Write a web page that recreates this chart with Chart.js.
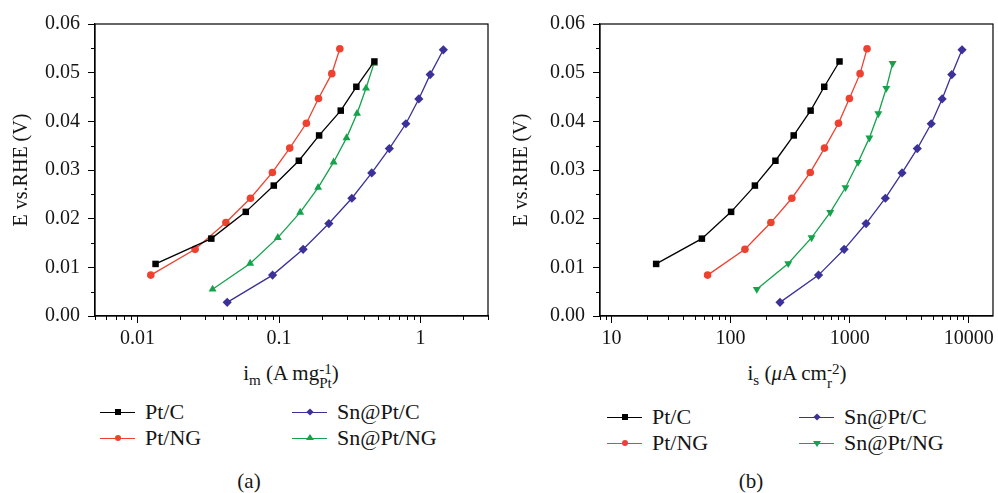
<!DOCTYPE html>
<html lang="en">
<head>
<meta charset="UTF-8">
<title>E vs. RHE - mass and specific activity</title>
<script src="https://cdn.jsdelivr.net/npm/chart.js@4"></script>
<style>
    body { margin: 0; width: 998px; height: 493px; position: relative; overflow: hidden; background: #fff;
           font-family: 'Liberation Serif', 'DejaVu Serif', serif; color: #151515; }
    canvas { position: absolute; top: 0; }
    #chart-a { left: 0; }
    #chart-b { left: 500px; }
    .xt { position: absolute; width: 300px; text-align: center; font-size: 21px; white-space: nowrap; }
    .xt sub { font-size: 0.72em; vertical-align: -0.3em; }
    .ss { display: inline-block; vertical-align: -0.55em; line-height: 0.95em; font-size: 0.72em; text-align: left; }
    .ss span { display: block; }
    .leg { position: absolute; height: 24px; font-size: 22px; line-height: 24px; white-space: nowrap; }
    .leg .ln { position: absolute; left: 0; top: 12px; width: 35px; border-top: 1.5px solid; }
    .leg .mk { position: absolute; left: 15px; top: 9px; width: 6px; height: 6px; }
    .leg .txt { position: absolute; left: 45px; top: 0; }
    .cap { position: absolute; font-size: 21px; width: 60px; text-align: center; }
</style>
</head>
<body>
    <canvas id="chart-a" width="499" height="360"></canvas>
    <canvas id="chart-b" width="498" height="360"></canvas>

    <!-- x axis titles -->
    <div class="xt" style="left:141px; top:361px;">i<sub>m</sub> (A mg<span class="ss"><span>-1</span><span>Pt</span></span>)</div>
    <div class="xt" style="left:647px; top:361px;">i<sub>s</sub> (<i>μ</i>A cm<span class="ss"><span>-2</span><span>r</span></span>)</div>

    <!-- legends -->
    <div id="legends"></div>

    <div class="cap" style="left:219px; top:469px;">(a)</div>
    <div class="cap" style="left:721px; top:469px;">(b)</div>

<script>
    // Potential E vs. RHE (V) for each catalyst, same in both panels
    const ePtC = [0.0107, 0.0159, 0.0214, 0.0268, 0.0319, 0.0371, 0.0422, 0.0471, 0.0523];
    const ePtNG = [0.0084, 0.0137, 0.0192, 0.0242, 0.0295, 0.0345, 0.0396, 0.0447, 0.0498, 0.0549];
    const eSnPtC = [0.0028, 0.0084, 0.0137, 0.0190, 0.0242, 0.0294, 0.0344, 0.0395, 0.0446, 0.0496, 0.0547];
    const eSnPtNG = [0.0055, 0.0108, 0.0161, 0.0213, 0.0264, 0.0316, 0.0366, 0.0416, 0.0468, 0.0519];

    // (a) mass activity i_m (A mg-1 Pt)
    const imPtC = [0.0134, 0.0332, 0.0582, 0.0918, 0.138, 0.192, 0.273, 0.352, 0.472];
    const imPtNG = [0.0124, 0.0255, 0.0421, 0.0628, 0.0897, 0.119, 0.156, 0.190, 0.236, 0.269];
    const imSnPtC = [0.043, 0.090, 0.148, 0.225, 0.327, 0.452, 0.602, 0.788, 0.973, 1.17, 1.45];
    const imSnPtNG = [0.0339, 0.0625, 0.098, 0.141, 0.189, 0.243, 0.300, 0.356, 0.412, 0.469];

    // (b) specific activity i_s (uA cm-2)
    const isPtC = [23.7, 57.4, 101, 160, 238, 339, 470, 612, 822];
    const isPtNG = [64.1, 132, 218, 327, 467, 615, 806, 995, 1224, 1400];
    const isSnPtC = [260, 548, 899, 1374, 1995, 2754, 3700, 4842, 5984, 7211, 8790];
    const isSnPtNG = [166, 305, 479, 687, 923, 1178, 1465, 1742, 2032, 2296];

    const names = ['Pt/C', 'Pt/NG', 'Sn@Pt/C', 'Sn@Pt/NG'];
    const colors = ['#000000', '#ef4130', '#3b3199', '#14a34b'];

    const yTicks = [0, 0.01, 0.02, 0.03, 0.04, 0.05, 0.06];
    const yTickLabels = ['0.00', '0.01', '0.02', '0.03', '0.04', '0.05', '0.06'];
    const yMinor = [0.005, 0.015, 0.025, 0.035, 0.045, 0.055];
    const xTicksA = [0.01, 0.1, 1];
    const xTickLabelsA = ['0.01', '0.1', '1'];
    const xTicksB = [10, 100, 1000, 10000];
    const xTickLabelsB = ['10', '100', '1000', '10000'];

    Chart.defaults.font.family = "'Liberation Serif', 'DejaVu Serif', serif";
    Chart.defaults.font.size = 20;
    Chart.defaults.color = '#151515';

    // minor ticks 2..9 x 10^n inside the axis range
    function logMinor(min, max) {
        const out = [];
        for (let d = Math.floor(Math.log10(min)); d <= Math.ceil(Math.log10(max)); d++) {
            for (let k = 2; k <= 9; k++) {
                const v = k * Math.pow(10, d);
                if (v >= min && v <= max) out.push(v);
            }
        }
        return out;
    }

    // box around the plot + short minor ticks
    const frame = {
        id: 'frame',
        afterDraw(chart, args, opts) {
            const { ctx, chartArea: a, scales: { x, y } } = chart;
            ctx.save();
            ctx.strokeStyle = '#000';
            ctx.lineWidth = 1.2;
            ctx.strokeRect(a.left, a.top, a.right - a.left, a.bottom - a.top);
            ctx.lineWidth = 1;
            ctx.beginPath();
            opts.xMinor.forEach(v => {
                const p = Math.round(x.getPixelForValue(v)) + 0.5;
                ctx.moveTo(p, a.bottom);
                ctx.lineTo(p, a.bottom + 4);
            });
            opts.yMinor.forEach(v => {
                const p = Math.round(y.getPixelForValue(v)) + 0.5;
                ctx.moveTo(a.left - 4, p);
                ctx.lineTo(a.left, p);
            });
            ctx.stroke();
            ctx.restore();
        }
    };

    function series(xs, ys, i, style, rot) {
        return {
            label: names[i],
            data: xs.map((v, k) => ({ x: v, y: ys[k] })),
            borderColor: colors[i],
            backgroundColor: colors[i],
            borderWidth: 1.3,
            pointStyle: style,
            pointRadius: style === 'circle' ? 3.8 : 4.6,
            pointRotation: rot || 0,
            pointBorderWidth: 0,
            tension: 0
        };
    }

    function makeChart(id, datasets, xMin, xMax, xTicks, xLabels, yWidth) {
        new Chart(document.getElementById(id), {
            type: 'line',
            data: { datasets },
            plugins: [frame],
            options: {
                responsive: false,
                animation: false,
                layout: { padding: { top: 24, right: document.getElementById(id).width - yWidth - 393, left: 0, bottom: 0 } },
                plugins: {
                    legend: { display: false },
                    tooltip: { enabled: false },
                    frame: { xMinor: logMinor(xMin, xMax), yMinor }
                },
                scales: {
                    x: {
                        type: 'logarithmic',
                        min: xMin, max: xMax,
                        afterBuildTicks: s => { s.ticks = xTicks.map(v => ({ value: v })); },
                        afterFit: s => { s.height = 44; },
                        ticks: { callback: (v, i) => xLabels[i], padding: 4, maxRotation: 0, autoSkip: false },
                        grid: { drawOnChartArea: false, tickLength: 7, color: '#000' },
                        border: { color: '#000', width: 1.2 }
                    },
                    y: {
                        min: 0, max: 0.06,
                        afterBuildTicks: s => { s.ticks = yTicks.map(v => ({ value: v })); },
                        afterFit: s => { s.width = yWidth; },
                        ticks: { callback: (v, i) => yTickLabels[i], padding: 8 },
                        grid: { drawOnChartArea: false, tickLength: 7, color: '#000' },
                        border: { color: '#000', width: 1.2 },
                        title: { display: true, text: 'E vs.RHE (V)', font: { size: 20 }, padding: { top: 10, bottom: 0 } }
                    }
                }
            }
        });
    }

    makeChart('chart-a', [
        series(imPtC, ePtC, 0, 'rect'),
        series(imPtNG, ePtNG, 1, 'circle'),
        series(imSnPtC, eSnPtC, 2, 'rectRot'),
        series(imSnPtNG, eSnPtNG, 3, 'triangle')
    ], 0.005, 3, xTicksA, xTickLabelsA, 95);

    makeChart('chart-b', [
        series(isPtC, ePtC, 0, 'rect'),
        series(isPtNG, ePtNG, 1, 'circle'),
        series(isSnPtC, eSnPtC, 2, 'rectRot'),
        series(isSnPtNG, eSnPtNG, 3, 'triangle', 180)
    ], 8, 16000, xTicksB, xTickLabelsB, 100);

    // legends drawn as html, two columns
    const legendPos = [
        { left: 100, top: 400, col: 192, row: 26, tri: '' },
        { left: 607, top: 405, col: 192, row: 26, tri: 'down' }
    ];
    const holder = document.getElementById('legends');
    legendPos.forEach(p => {
        [0, 1, 2, 3].forEach(i => {
            const item = document.createElement('div');
            item.className = 'leg';
            item.style.left = (p.left + (i >= 2 ? p.col : 0)) + 'px';
            item.style.top = (p.top + (i % 2) * p.row) + 'px';
            let mk = '<div class="mk" style="background:' + colors[i] + '"></div>';
            if (i === 1) mk = '<div class="mk" style="background:' + colors[i] + ';border-radius:50%"></div>';
            if (i === 2) mk = '<div class="mk" style="background:' + colors[i] + ';transform:rotate(45deg) scale(0.85)"></div>';
            if (i === 3) {
                const b = p.tri === 'down' ? 'border-top:6px solid ' + colors[i] + ';top:10px' : 'border-bottom:6px solid ' + colors[i] + ';top:8px';
                mk = '<div class="mk" style="width:0;height:0;left:14px;border-left:4px solid transparent;border-right:4px solid transparent;' + b + '"></div>';
            }
            item.innerHTML = '<div class="ln" style="border-color:' + colors[i] + '"></div>' + mk +
                '<span class="txt">' + names[i] + '</span>';
            holder.appendChild(item);
        });
    });
</script>
</body>
</html>
